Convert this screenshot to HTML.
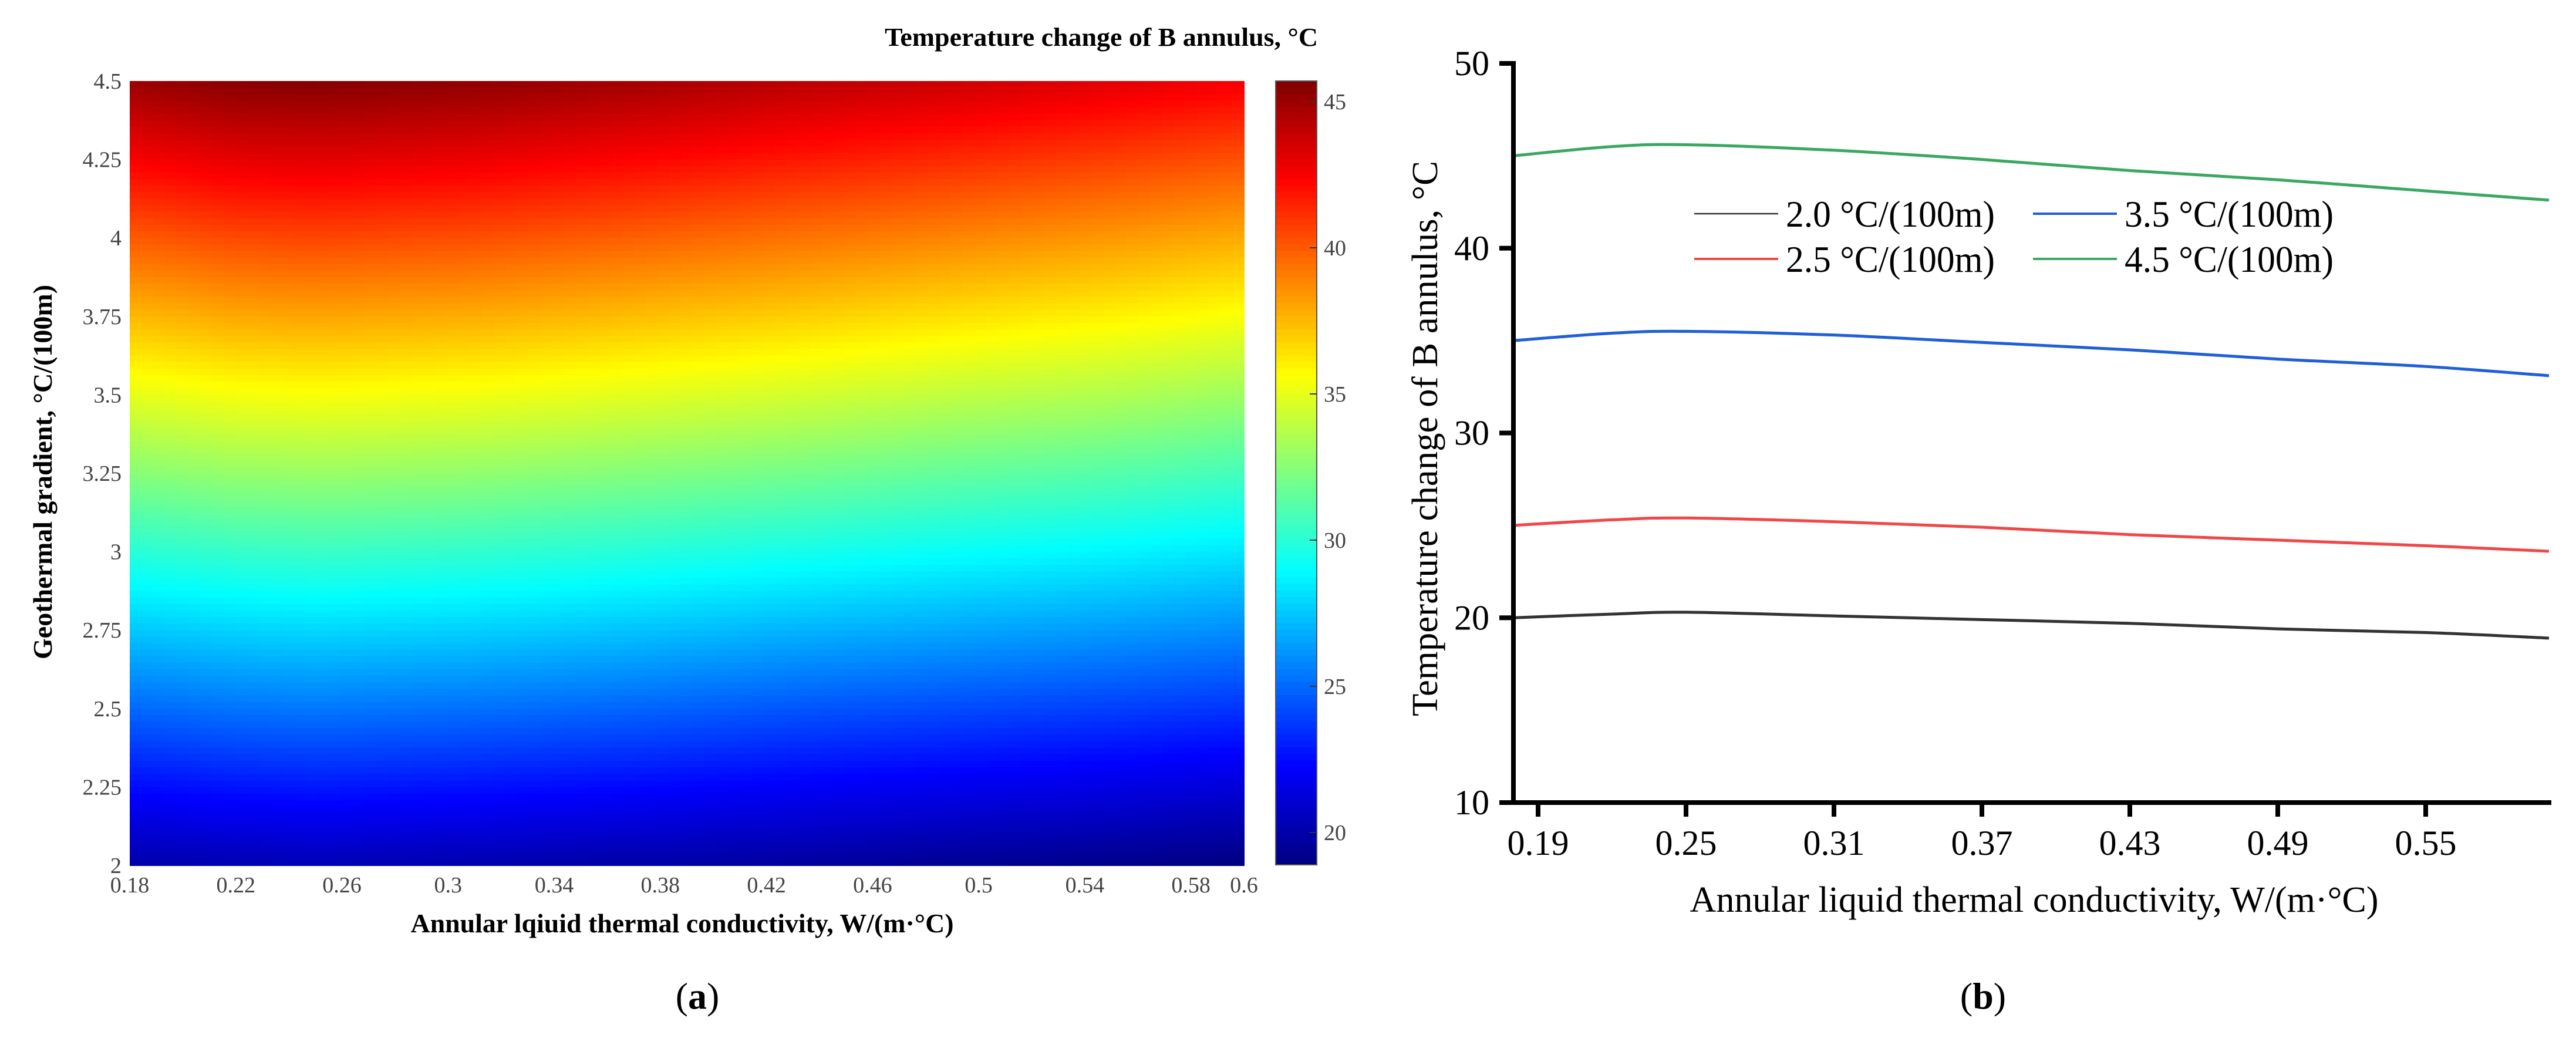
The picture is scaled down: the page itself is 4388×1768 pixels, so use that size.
<!DOCTYPE html>
<html><head><meta charset="utf-8"><style>
html,body{margin:0;padding:0;background:#fff;}
svg{display:block;font-family:"Liberation Serif",serif;}
</style></head><body>
<svg id="fig" width="4388" height="1768" viewBox="0 0 4388 1768" xmlns="http://www.w3.org/2000/svg">
<g id="pa"></g>
<g id="pb"></g>
<text x="1188" y="1718" font-size="64" text-anchor="middle">(<tspan font-weight="bold">a</tspan>)</text>
<text x="3378" y="1718" font-size="64" text-anchor="middle">(<tspan font-weight="bold">b</tspan>)</text>
</svg>
<script>
const xVals = [0.18, 0.22, 0.25, 0.31, 0.37, 0.43, 0.49, 0.55, 0.60];
const gradients = [2.0, 2.5, 3.5, 4.5];
const seriesLabels = ["2.0 °C/(100m)", "2.5 °C/(100m)", "3.5 °C/(100m)", "4.5 °C/(100m)"];
const s20 = [20.0, 20.2, 20.3, 20.1, 19.9, 19.7, 19.4, 19.2, 18.9];
const s25 = [25.0, 25.3, 25.4, 25.2, 24.9, 24.5, 24.2, 23.9, 23.6];
const s35 = [35.0, 35.4, 35.5, 35.3, 34.9, 34.5, 34.0, 33.6, 33.1];
const s45 = [45.0, 45.5, 45.6, 45.3, 44.8, 44.2, 43.7, 43.1, 42.6];
const bYTicks = [10, 20, 30, 40, 50];
const bXTicks = [0.19, 0.25, 0.31, 0.37, 0.43, 0.49, 0.55];
const aXTicks = ["0.18","0.22","0.26","0.3","0.34","0.38","0.42","0.46","0.5","0.54","0.58","0.6"];
const aYTicks = ["2","2.25","2.5","2.75","3","3.25","3.5","3.75","4","4.25","4.5"];
const cbTicks = [20, 25, 30, 35, 40, 45];

const NS = "http://www.w3.org/2000/svg";
function mk(parent, tag, attrs, text){const e=document.createElementNS(NS,tag);for(const k in attrs)e.setAttribute(k,attrs[k]);if(text!==undefined)e.textContent=text;parent.appendChild(e);return e;}
const allSeries=[s20,s25,s35,s45];
const colors=["#333333","#f04848","#1f5fd8","#3aa860"];

// ---------- panel b ----------
const pb=document.getElementById('pb');
const bx0=2578,bx1=4342,by0=1367,by1=108;
const bxs=v=>bx0+(v-0.18)/(0.60-0.18)*(bx1-bx0);
const bys=v=>by0-(v-10)/(50-10)*(by0-by1);
for(let i=0;i<allSeries.length;i++){
  const pts=allSeries[i].map((v,j)=>[bxs(xVals[j]),bys(v)]);
  let d='M'+pts[0][0]+' '+pts[0][1];
  for(let j=0;j<pts.length-1;j++){const p0=pts[Math.max(0,j-1)],p1=pts[j],p2=pts[j+1],p3=pts[Math.min(pts.length-1,j+2)];
    d+=` C${p1[0]+(p2[0]-p0[0])/6} ${p1[1]+(p2[1]-p0[1])/6} ${p2[0]-(p3[0]-p1[0])/6} ${p2[1]-(p3[1]-p1[1])/6} ${p2[0]} ${p2[1]}`;}
  const p=mk(pb,'path',{d:d,fill:'none',stroke:colors[i],'stroke-width':5});
  
  
}
const axB=mk(pb,'path',{d:`M${bx0} ${by1} V${by0} H${bx1}`,fill:'none',stroke:'#000','stroke-width':8,'stroke-linecap':'square'});


bYTicks.forEach(t=>{
  const y=bys(t);
  const l=mk(pb,'line',{x1:bx0-24,x2:bx0,y1:y,y2:y,stroke:'#000','stroke-width':8});
  
  
  const tx=mk(pb,'text',{x:2537,y:y+20,'font-size':60,'text-anchor':'end'},String(t));
  
  
});
bXTicks.forEach(t=>{
  const x=bxs(t);
  const l=mk(pb,'line',{x1:x,x2:x,y1:by0,y2:by0+24,stroke:'#000','stroke-width':8});
  
  
  const tx=mk(pb,'text',{x:x,y:1456,'font-size':60,'text-anchor':'middle'},t.toFixed(2));
  
  
});
const bxt=mk(pb,'text',{x:3465,y:1553,'font-size':62,'text-anchor':'middle',textLength:1173,lengthAdjust:'spacingAndGlyphs'},'Annular liquid thermal conductivity, W/(m·°C)');


const byt=mk(pb,'text',{x:0,y:0,'font-size':62,'text-anchor':'middle',textLength:946,lengthAdjust:'spacingAndGlyphs',transform:'translate(2448 747) rotate(-90)'},'Temperature change of B annulus, °C');


const legPos=[[2886,364],[2886,441],[3463,364],[3463,441]];
for(let i=0;i<4;i++){
  const g=mk(pb,'g',{});
  
  
  const [lx,ly]=legPos[i];
  mk(g,'line',{x1:lx,x2:lx+143,y1:ly,y2:ly,stroke:colors[i],'stroke-width':i==0?2.5:4});
  mk(g,'text',{x:lx+156,y:ly+22,'font-size':64,textLength:356,lengthAdjust:'spacingAndGlyphs'},seriesLabels[i]);
}

// ---------- panel a ----------
const pa=document.getElementById('pa');
const ax0=221,ax1=2119,ay0=1474,ay1=138;
const cmin=18.9,cmax=45.7;
function jet(t){t=Math.max(0,Math.min(1,t));const c=v=>Math.round(255*Math.max(0,Math.min(1,v)));
  return `rgb(${c(1.5-Math.abs(4*t-3))},${c(1.5-Math.abs(4*t-2))},${c(1.5-Math.abs(4*t-1))})`;}
function interpX(arr,x){for(let j=0;j<xVals.length-1;j++){if(x<=xVals[j+1]){const f=(x-xVals[j])/(xVals[j+1]-xVals[j]);return arr[j]+(arr[j+1]-arr[j])*f;}}return arr[arr.length-1];}
function value(x,g){const vs=allSeries.map(s=>interpX(s,x));
  for(let i=0;i<gradients.length-1;i++){if(g<=gradients[i+1]){const f=(g-gradients[i])/(gradients[i+1]-gradients[i]);return vs[i]+(vs[i+1]-vs[i])*f;}}return vs[vs.length-1];}
const NX=95,NY=120;
const cw=(ax1-ax0)/NX,ch=(ay0-ay1)/NY;
const cells=mk(pa,'g',{'shape-rendering':'crispEdges'});


for(let i=0;i<NX;i++)for(let j=0;j<NY;j++){
  const x=0.18+(i+0.5)/NX*0.42, g=4.5-(j+0.5)/NY*2.5;
  const v=value(x,g);
  const r=mk(cells,'rect',{x:(ax0+i*cw).toFixed(1),y:(ay1+j*ch).toFixed(1),width:(cw+1).toFixed(1),height:(ch+1).toFixed(1),fill:jet((v-cmin)/(cmax-cmin))});
  
  
}
aXTicks.forEach((t,i)=>{
  const x=ax0+(parseFloat(t)-0.18)/0.42*(ax1-ax0);
  const tx=mk(pa,'text',{x:x,y:1520,'font-size':38,fill:'#444','text-anchor':'middle'},t);
  
  
});
aYTicks.forEach(t=>{
  const y=ay0-(parseFloat(t)-2)/2.5*(ay0-ay1);
  const tx=mk(pa,'text',{x:207,y:y+13,'font-size':38,fill:'#444','text-anchor':'end'},t);
  
  
});
const axt=mk(pa,'text',{x:1162,y:1588,'font-size':46,'font-weight':'bold','text-anchor':'middle',textLength:925,lengthAdjust:'spacingAndGlyphs'},'Annular lqiuid thermal conductivity, W/(m·°C)');


const ayt=mk(pa,'text',{x:0,y:0,'font-size':46,'font-weight':'bold','text-anchor':'middle',textLength:638,lengthAdjust:'spacingAndGlyphs',transform:'translate(88 804) rotate(-90)'},'Geothermal gradient, °C/(100m)');


// colorbar
const cbx0=2173,cbx1=2243,cby0=1473,cby1=138;
const cb=mk(pa,'g',{'shape-rendering':'crispEdges'});


const NC=120;
for(let k=0;k<NC;k++){
  const v=cmax-(k+0.5)/NC*(cmax-cmin);
  mk(cb,'rect',{x:cbx0,y:(cby1+k*(cby0-cby1)/NC).toFixed(1),width:cbx1-cbx0,height:((cby0-cby1)/NC+1).toFixed(1),fill:jet((v-cmin)/(cmax-cmin))});
}
mk(cb,'rect',{x:cbx0,y:cby1,width:cbx1-cbx0,height:cby0-cby1,fill:'none',stroke:'#555','stroke-width':2});
const cys=v=>cby0-(v-cmin)/(cmax-cmin)*(cby0-cby1);
cbTicks.forEach(t=>{
  const y=cys(t);
  mk(cb,'line',{x1:cbx1-12,x2:cbx1,y1:y,y2:y,stroke:'#333','stroke-width':2});
  const tx=mk(pa,'text',{x:2255,y:y+13,'font-size':38,fill:'#444'},String(t));
  
  
});
const cbt=mk(pa,'text',{x:2245,y:78,'font-size':44,'font-weight':'bold','text-anchor':'end',textLength:738,lengthAdjust:'spacingAndGlyphs'},'Temperature change of B annulus, °C');


</script>
</body></html>
